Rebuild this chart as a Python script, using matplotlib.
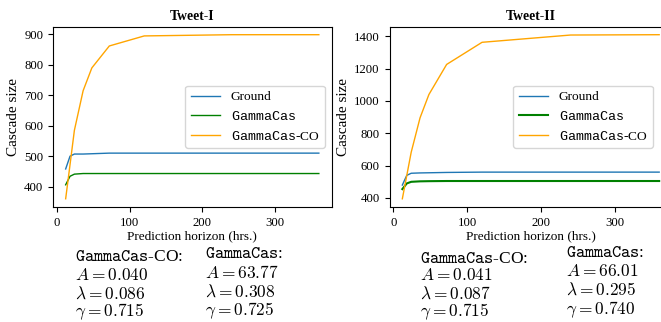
import numpy as np
import matplotlib
matplotlib.use('Agg')
import matplotlib.pyplot as plt

plt.rcParams['font.family'] = 'serif'
plt.rcParams['font.serif'] = ['Liberation Serif', 'DejaVu Serif']
plt.rcParams['mathtext.fontset'] = 'cm'
# used only by the legend labels (custom math font set)
plt.rcParams['mathtext.rm'] = 'Liberation Serif'
plt.rcParams['mathtext.it'] = 'Liberation Serif:italic'
plt.rcParams['mathtext.tt'] = 'Liberation Mono'

# prediction horizons (hrs.)
horizon = [12, 18, 24, 36, 48, 72, 120, 240, 360]

# Tweet-I
ground_1 = [458, 500, 507, 507, 508, 510, 510, 510, 510]
gamma_1 = [406, 434, 441, 443, 443, 443, 443, 443, 443]
co_1 = [360, 472, 585, 715, 790, 862, 895, 899, 899]

# Tweet-II
ground_2 = [480, 540, 553, 555, 556, 558, 560, 560, 560]
gamma_2 = [455, 490, 500, 503, 504, 505, 505, 505, 505]
co_2 = [395, 539, 683, 896, 1040, 1226, 1363, 1408, 1410]

titles = ['Tweet-I', 'Tweet-II']
params_co = [['0.040', '0.086', '0.715'], ['0.041', '0.087', '0.715']]
params_gc = [['63.77', '0.308', '0.725'], ['66.01', '0.295', '0.740']]

W, H = 661, 322
fig = plt.figure(figsize=(W / 100, H / 100), dpi=100)

def px(x0, y0, x1, y1):
  return [x0 / W, 1 - y1 / H, (x1 - x0) / W, (y1 - y0) / H]

ax1 = fig.add_axes(px(53, 26.5, 331.5, 207))
ax2 = fig.add_axes(px(389.5, 26.5, 672, 207))

series = [(ground_1, gamma_1, co_1), (ground_2, gamma_2, co_2)]
green_lw = [1.0, 1.5]
for i, ax in enumerate([ax1, ax2]):
  g, gc, co = series[i]
  ax.plot(horizon, g, color='#1f77b4', lw=1.0, label='Ground')
  ax.plot(horizon, gc, color='green', lw=green_lw[i], label=r'$\mathtt{GammaCas}$')
  ax.plot(horizon, co, color='orange', lw=1.0, label=r'$\mathtt{GammaCas}$-CO')
  ax.set_title(titles[i], fontsize=9.8, weight='bold', pad=5)
  ax.set_xlabel('Prediction horizon (hrs.)', fontsize=9.5, labelpad=1)
  ax.set_ylabel('Cascade size', fontsize=11, labelpad=3)
  ax.tick_params(labelsize=9.2)
  ax.set_xticks([0, 100, 200, 300])

ax2.set_yticks([400, 600, 800, 1000, 1200, 1400])
leg1 = ax1.legend(loc='center right', fontsize=9.6, handlelength=2.2)
leg2 = ax2.legend(loc='center right', bbox_to_anchor=(0.955, 0.5), fontsize=9.6, handlelength=2.2)
for leg in [leg1, leg2]:
  for t in leg.get_texts():
    t.set_math_fontfamily('custom')

# fitted parameters below each panel: (x, header baseline, row baselines)
cols = [
  (75, 261, [280, 298.5, 316.5], params_co[0], r'$\mathtt{GammaCas}$-CO:'),
  (205, 258, [278, 297, 315.5], params_gc[0], r'$\mathtt{GammaCas}$:'),
  (420, 263, [280, 298.5, 316.5], params_co[1], r'$\mathtt{GammaCas}$-CO:'),
  (566, 257, [276, 295, 314], params_gc[1], r'$\mathtt{GammaCas}$:'),
]
names = [r'$A = ', r'$\lambda = ', r'$\gamma = ']
for x, yh, rows, vals, head in cols:
  fig.text(x / W, 1 - yh / H, head, fontsize=12.5, va='baseline')
  for j in range(3):
    fig.text(x / W, 1 - rows[j] / H, names[j] + vals[j] + '$', fontsize=12.5, va='baseline')

fig.savefig('out.png', dpi=100)
